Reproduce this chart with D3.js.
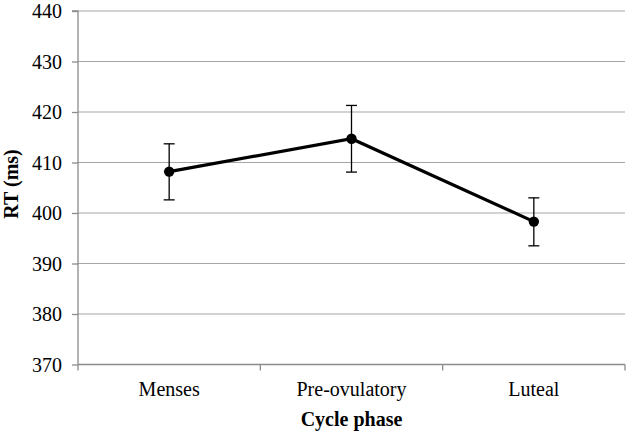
<!DOCTYPE html>
<html><head><meta charset="utf-8">
<script src="https://cdn.jsdelivr.net/npm/d3@7"></script>
<style>body{margin:0;background:#fff}svg text{font-family:"Liberation Serif","Times New Roman",Times,"DejaVu Serif",serif;fill:#000}</style>
</head><body><svg id="c" width="630" height="436"></svg>
<script>
const categories = ["Menses","Pre-ovulatory","Luteal"];
const means = [408.2, 414.7, 398.3];
const upper = [413.7, 421.3, 403.0];
const lower = [402.6, 408.1, 393.5];
const yTicks = [370,380,390,400,410,420,430,440];

const FONT = '"Liberation Serif","Times New Roman",Times,serif';
const svg = d3.select("#c");
const L = 78, R = 625, T = 11, B = 364.5;
const x = d3.scaleBand().domain(categories).range([L, R]);
const y = d3.scaleLinear().domain([370, 440]).range([B, T]);

// gridlines
svg.append("g").selectAll("line").data(yTicks.filter(d=>d>370)).join("line")
  .attr("x1", L).attr("x2", R).attr("y1", d=>y(d)).attr("y2", d=>y(d))
  .attr("stroke", "#a6a6a6").attr("stroke-width", 1.2);

// y axis
const yAxis = d3.axisLeft(y).tickValues(yTicks).tickSize(6).tickPadding(10).tickFormat(d3.format("d"));
const gy = svg.append("g").attr("transform", `translate(${L},0)`).call(yAxis)
  .attr("font-family", FONT).attr("font-size", 20);
gy.select(".domain").attr("stroke", "#8c8c8c").attr("stroke-width", 1.3).attr("d", `M-6,${T}H0V${B}`);
gy.selectAll(".tick line").attr("stroke", "#8c8c8c").attr("stroke-width", 1.3);
gy.selectAll(".tick text").attr("font-size", 20).attr("font-family", FONT).attr("dy", "0.34em");

// x axis
const bounds = [L, ...categories.map(c => x(c) + x.bandwidth())];
const gx = svg.append("g").attr("transform", `translate(0,${B})`);
gx.append("line").attr("x1", L).attr("x2", R).attr("stroke", "#8c8c8c").attr("stroke-width", 1.3);
gx.selectAll("line.tk").data(bounds).join("line").attr("class","tk")
  .attr("x1", d=>d).attr("x2", d=>d).attr("y1", 0).attr("y2", 6)
  .attr("stroke", "#8c8c8c").attr("stroke-width", 1.3);
gx.selectAll("text").data(categories).join("text")
  .attr("x", d => x(d) + x.bandwidth()/2).attr("y", 31.5)
  .attr("text-anchor", "middle").attr("font-size", 20).attr("font-family", FONT).text(d=>d);

// axis titles
svg.append("text").attr("x", (L+R)/2).attr("y", 426).attr("text-anchor","middle")
  .attr("font-size", 20).attr("font-weight","bold").attr("font-family", FONT).text("Cycle phase");
svg.append("text").attr("transform","translate(18,184) rotate(-90)").attr("text-anchor","middle")
  .attr("font-size", 20).attr("font-weight","bold").attr("font-family", FONT).text("RT (ms)");

const cx = d => x(d) + x.bandwidth()/2;
// error bars
const eb = svg.append("g").attr("stroke","#000").attr("stroke-width",1.3);
categories.forEach((c,i)=>{
  eb.append("line").attr("x1",cx(c)).attr("x2",cx(c)).attr("y1",y(upper[i])).attr("y2",y(lower[i]));
  eb.append("line").attr("x1",cx(c)-5.5).attr("x2",cx(c)+5.5).attr("y1",y(upper[i])).attr("y2",y(upper[i]));
  eb.append("line").attr("x1",cx(c)-5.5).attr("x2",cx(c)+5.5).attr("y1",y(lower[i])).attr("y2",y(lower[i]));
});

// line
const data = categories.map((c,i)=>({c, v: means[i]}));
svg.append("path").datum(data).attr("fill","none").attr("stroke","#000").attr("stroke-width",3.2)
  .attr("d", d3.line().x(d=>cx(d.c)).y(d=>y(d.v)));
svg.append("g").selectAll("circle").data(data).join("circle")
  .attr("cx", d=>cx(d.c)).attr("cy", d=>y(d.v)).attr("r", 5.2).attr("fill","#000");
</script></body></html>
